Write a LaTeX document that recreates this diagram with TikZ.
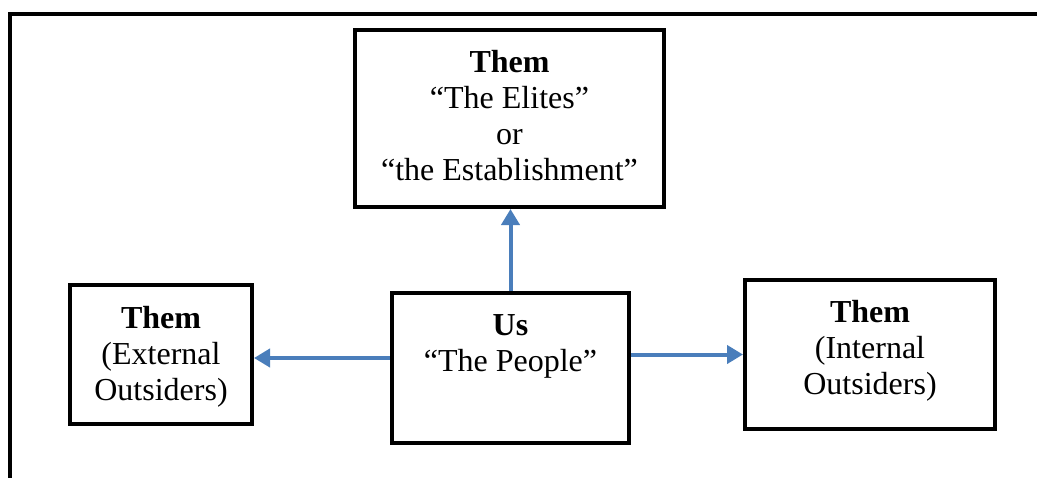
\documentclass[tikz,border=0pt]{standalone}
\usepackage{fontspec}
\setmainfont{Liberation Serif}
\usetikzlibrary{arrows.meta}
\definecolor{arrowblue}{RGB}{74,126,187}
\tikzset{
  box/.style={draw=black, line width=4pt, inner sep=0pt, minimum width=#1},
  lbl/.style={align=center, inner sep=0pt, anchor=north, font=\fontsize{32}{36}\selectfont},
  arr/.style={draw=arrowblue, line width=4pt, -{Triangle[width=18pt,length=16pt]}},
  frame/.style={line width=4pt, line cap=rect}
}
\begin{document}
\begin{tikzpicture}[x=1pt,y=-1pt]
\useasboundingbox (0,0) rectangle (1037,477);
% outer frame
\draw[frame] (1040,13.5) -- (10,13.5) -- (10,480);
% boxes
\node[box=309pt, minimum height=177pt] (elite) at (509.5,118.5) {};
\node[box=182pt, minimum height=139pt] (ext) at (161,354.5) {};
\node[box=237pt, minimum height=150pt] (us) at (510.5,368) {};
\node[box=250pt, minimum height=149pt] (int) at (870,354.5) {};
% texts
\node[lbl] (eliteT) at (509.5,50) {\textbf{Them}\\“The Elites”\\or\\“the Establishment”};
\node[lbl] (extT) at (161,306) {\textbf{Them}\\(External\\Outsiders)};
\node[lbl] (usT) at (510.5,314) {\textbf{Us}\\“The People”};
\node[lbl] (intT) at (870,300) {\textbf{Them}\\(Internal\\Outsiders)};
% arrows
\draw[arr] (us.north) -- (us.north |- elite.south);
\draw[arr] ([yshift=-3.5pt]ext.east -| us.west) -- ([yshift=-3.5pt]ext.east);
\draw[arr] (int.west -| us.east) -- (int.west);
\end{tikzpicture}
\end{document}
